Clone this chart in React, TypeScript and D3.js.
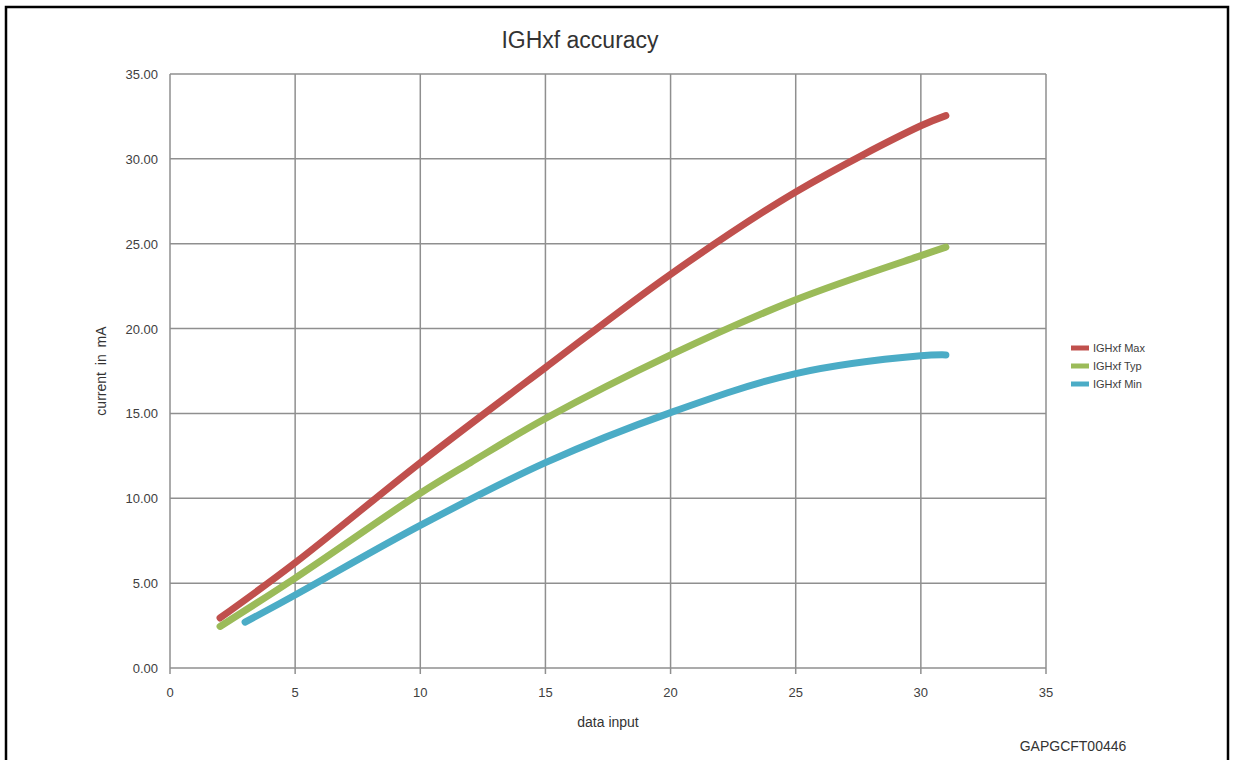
import React from "react";
import * as d3 from "d3";

const maxX = [2, 5, 10, 15, 20, 25, 30, 31];
const maxY = [2.95, 6.2, 12.1, 17.7, 23.2, 28.05, 31.95, 32.55];
const typX = [2, 5, 10, 12, 15, 20, 25, 30, 31];
const typY = [2.45, 5.3, 10.3, 12.1, 14.7, 18.45, 21.7, 24.3, 24.8];
const minX = [3, 5, 10, 15, 20, 25, 30, 31];
const minY = [2.7, 4.3, 8.4, 12.1, 15.05, 17.35, 18.4, 18.45];

const seriesNames = ["IGHxf Max", "IGHxf Typ", "IGHxf Min"];
const seriesColors = ["#C0504D", "#9BBB59", "#4BACC6"];
const xTicks = [0, 5, 10, 15, 20, 25, 30, 35];
const yTicks = [0, 5, 10, 15, 20, 25, 30, 35];

const W = 1234;
const H = 760;
const font = "'Liberation Sans', Arial, sans-serif";

export default function App() {
  const x = d3.scaleLinear().domain([0, 35]).range([170, 1046]);
  const y = d3.scaleLinear().domain([0, 35]).range([668, 74]);
  const series = [
    maxX.map((v, i) => [v, maxY[i]] as [number, number]),
    typX.map((v, i) => [v, typY[i]] as [number, number]),
    minX.map((v, i) => [v, minY[i]] as [number, number]),
  ];
  const line = d3
    .line<[number, number]>()
    .x((d) => x(d[0]))
    .y((d) => y(d[1]))
    .curve(d3.curveCatmullRom.alpha(0.5));
  const grid = "#8f8f8f";
  return (
    <svg
      width={W}
      height={H}
      style={{ position: "absolute", left: 0, top: 0, background: "#fff" }}
      fontFamily={font}
    >
      <rect x={0} y={0} width={W} height={H} fill="#fff" />
      {/* frame */}
      <path d={`M6,${H + 5} V7 H1228 V${H + 5}`} fill="none" stroke="#000" strokeWidth={2.5} />
      <text x={580} y={48} textAnchor="middle" fontSize={23} fill="#333">
        IGHxf accuracy
      </text>
      {/* grid */}
      {xTicks.map((t) => (
        <line key={"gx" + t} x1={x(t)} x2={x(t)} y1={y(35)} y2={y(0) + 6} stroke={grid} strokeWidth={1.5} />
      ))}
      {yTicks.map((t) => (
        <line key={"gy" + t} x1={x(0)} x2={x(35)} y1={y(t)} y2={y(t)} stroke={grid} strokeWidth={1.5} />
      ))}
      {xTicks.map((t) => (
        <text key={"tx" + t} x={x(t)} y={697} textAnchor="middle" fontSize={13} fill="#404040">
          {t}
        </text>
      ))}
      {yTicks.map((t) => (
        <text key={"ty" + t} x={158} y={y(t) + 5} textAnchor="end" fontSize={13} fill="#404040">
          {t.toFixed(2)}
        </text>
      ))}
      <text x={608} y={727} textAnchor="middle" fontSize={14} fill="#333">
        data input
      </text>
      <text
        transform={`translate(106,371) rotate(-90)`}
        textAnchor="middle"
        fontSize={14}
        fill="#333"
        style={{ wordSpacing: "3px" }}
      >
        current in mA
      </text>
      {series.map((s, i) => (
        <path
          key={"s" + i}
          d={line(s) || ""}
          fill="none"
          stroke={seriesColors[i]}
          strokeWidth={7}
          strokeLinecap="round"
          strokeLinejoin="round"
        />
      ))}
      {/* legend */}
      {seriesNames.map((n, i) => (
        <g key={"lg" + i} transform={`translate(1071,${348 + i * 18})`}>
          <line x1={0} x2={18} y1={0} y2={0} stroke={seriesColors[i]} strokeWidth={5} />
          <text x={22} y={4} fontSize={11} fill="#404040">
            {n}
          </text>
        </g>
      ))}
      <text x={1073} y={751} textAnchor="middle" fontSize={14} fill="#333">
        GAPGCFT00446
      </text>
    </svg>
  );
}
